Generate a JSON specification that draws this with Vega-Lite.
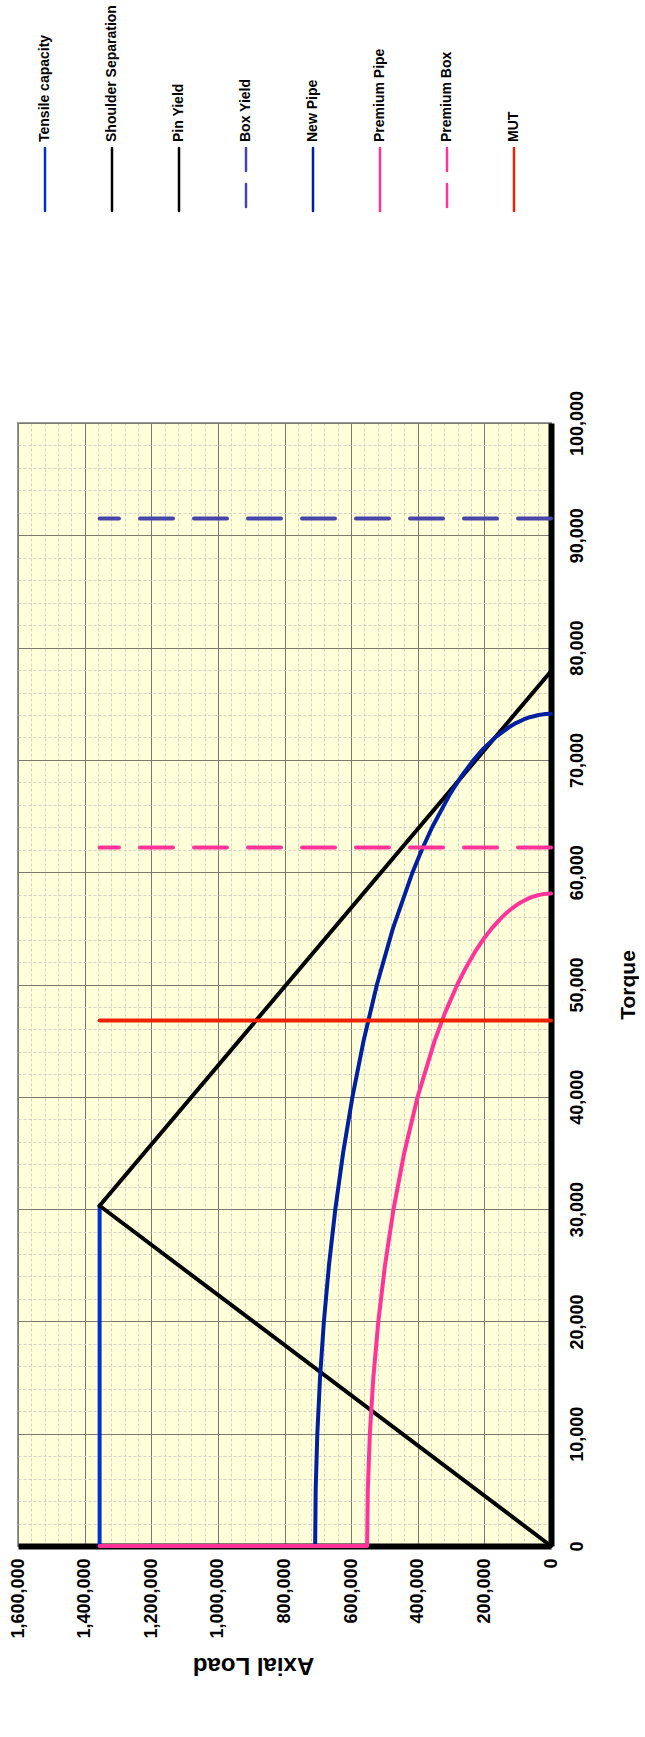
{
 "$schema": "https://vega.github.io/schema/vega-lite/v6.json",
 "background": "white",
 "padding": {"left": 8, "top": 5, "right": 0, "bottom": 0},
 "bounds": "flush",
 "spacing": 212,
 "config": {"font": "Liberation Sans"},
 "datasets": {
  "curves": [
   {"series":"Tensile capacity","i":0,"torque":0,"axial":1355000},
   {"series":"Tensile capacity","i":1,"torque":30300,"axial":1355000},
   {"series":"Shoulder Separation","i":0,"torque":0,"axial":0},
   {"series":"Shoulder Separation","i":1,"torque":30300,"axial":1355000},
   {"series":"Pin Yield","i":0,"torque":30300,"axial":1355000},
   {"series":"Pin Yield","i":1,"torque":77900,"axial":0},
   {"series":"Box Yield","i":0,"torque":91500,"axial":0},
   {"series":"Box Yield","i":1,"torque":91500,"axial":1355000},
   {"series":"New Pipe","i":0,"torque":0,"axial":1355000},
   {"series":"New Pipe","i":1,"torque":0,"axial":708000},
   {"series":"New Pipe","i":2,"torque":5000,"axial":706400},
   {"series":"New Pipe","i":3,"torque":10000,"axial":701500},
   {"series":"New Pipe","i":4,"torque":15000,"axial":693300},
   {"series":"New Pipe","i":5,"torque":20000,"axial":681700},
   {"series":"New Pipe","i":6,"torque":25000,"axial":666500},
   {"series":"New Pipe","i":7,"torque":30000,"axial":647400},
   {"series":"New Pipe","i":8,"torque":35000,"axial":624100},
   {"series":"New Pipe","i":9,"torque":40000,"axial":596000},
   {"series":"New Pipe","i":10,"torque":45000,"axial":562500},
   {"series":"New Pipe","i":11,"torque":50000,"axial":522500},
   {"series":"New Pipe","i":12,"torque":55000,"axial":474500},
   {"series":"New Pipe","i":13,"torque":60000,"axial":415500},
   {"series":"New Pipe","i":14,"torque":62000,"axial":387700},
   {"series":"New Pipe","i":15,"torque":64000,"axial":356800},
   {"series":"New Pipe","i":16,"torque":67000,"axial":302400},
   {"series":"New Pipe","i":17,"torque":68500,"axial":270000},
   {"series":"New Pipe","i":18,"torque":70000,"axial":232200},
   {"series":"New Pipe","i":19,"torque":71000,"axial":202700},
   {"series":"New Pipe","i":20,"torque":72000,"axial":167400},
   {"series":"New Pipe","i":21,"torque":73000,"axial":121500},
   {"series":"New Pipe","i":22,"torque":73300,"axial":103800},
   {"series":"New Pipe","i":23,"torque":73600,"axial":82100},
   {"series":"New Pipe","i":24,"torque":73800,"axial":63600},
   {"series":"New Pipe","i":25,"torque":74000,"axial":36800},
   {"series":"New Pipe","i":26,"torque":74080,"axial":16500},
   {"series":"New Pipe","i":27,"torque":74100,"axial":0},
   {"series":"Premium Pipe","i":0,"torque":0,"axial":1355000},
   {"series":"Premium Pipe","i":1,"torque":0,"axial":552000},
   {"series":"Premium Pipe","i":2,"torque":5000,"axial":549900},
   {"series":"Premium Pipe","i":3,"torque":10000,"axial":543800},
   {"series":"Premium Pipe","i":4,"torque":15000,"axial":533300},
   {"series":"Premium Pipe","i":5,"torque":20000,"axial":518300},
   {"series":"Premium Pipe","i":6,"torque":25000,"axial":498300},
   {"series":"Premium Pipe","i":7,"torque":30000,"axial":472700},
   {"series":"Premium Pipe","i":8,"torque":35000,"axial":440600},
   {"series":"Premium Pipe","i":9,"torque":40000,"axial":400300},
   {"series":"Premium Pipe","i":10,"torque":45000,"axial":349200},
   {"series":"Premium Pipe","i":11,"torque":47500,"axial":317900},
   {"series":"Premium Pipe","i":12,"torque":50000,"axial":281100},
   {"series":"Premium Pipe","i":13,"torque":51500,"axial":255500},
   {"series":"Premium Pipe","i":14,"torque":53000,"axial":226200},
   {"series":"Premium Pipe","i":15,"torque":54000,"axial":203700},
   {"series":"Premium Pipe","i":16,"torque":55000,"axial":177900},
   {"series":"Premium Pipe","i":17,"torque":56000,"axial":147100},
   {"series":"Premium Pipe","i":18,"torque":56500,"axial":128700},
   {"series":"Premium Pipe","i":19,"torque":57000,"axial":106900},
   {"series":"Premium Pipe","i":20,"torque":57300,"axial":91300},
   {"series":"Premium Pipe","i":21,"torque":57600,"axial":72300},
   {"series":"Premium Pipe","i":22,"torque":57800,"axial":56000},
   {"series":"Premium Pipe","i":23,"torque":57950,"axial":39700},
   {"series":"Premium Pipe","i":24,"torque":58050,"axial":22900},
   {"series":"Premium Pipe","i":25,"torque":58100,"axial":0},
   {"series":"Premium Box","i":0,"torque":62200,"axial":0},
   {"series":"Premium Box","i":1,"torque":62200,"axial":1355000},
   {"series":"MUT","i":0,"torque":46800,"axial":0},
   {"series":"MUT","i":1,"torque":46800,"axial":1355000}
  ]
 },
 "vconcat": [
  {
   "width": 523, "height": 63,
   "view": {"stroke": null},
   "data": {"name": "curves"},
   "transform": [{"aggregate": [{"op": "count", "as": "n"}], "groupby": ["series"]}],
   "encoding": {
    "x": {"field": "series", "type": "nominal", "sort": ["Tensile capacity","Shoulder Separation","Pin Yield","Box Yield","New Pipe","Premium Pipe","Premium Box","MUT"], "scale": {"type": "point", "padding": 0.403}, "axis": null},
    "y": {"datum": 1, "type": "quantitative", "scale": {"domain": [0, 1]}, "axis": null}
   },
   "layer": [
    {"mark": {"type": "rule", "strokeWidth": 2.5, "strokeCap": "round"},
     "encoding": {
      "y2": {"datum": 0},
      "color": {"field": "series", "type": "nominal", "scale": {"domain": ["Tensile capacity","Shoulder Separation","Pin Yield","Box Yield","New Pipe","Premium Pipe","Premium Box","MUT"], "range": ["#0033CC","#000000","#000000","#4646AA","#00209F","#FF3399","#FF3399","#EE2200"]}, "legend": null},
      "strokeDash": {"field": "series", "type": "nominal", "scale": {"domain": ["Tensile capacity","Shoulder Separation","Pin Yield","Box Yield","New Pipe","Premium Pipe","Premium Box","MUT"], "range": [[1,0],[1,0],[1,0],[23,13],[1,0],[1,0],[23,13],[1,0]]}, "legend": null}
     }},
    {"mark": {"type": "text", "angle": 270, "align": "left", "baseline": "middle", "dx": 6, "fontSize": 14, "fontWeight": "bold", "font": "Liberation Sans", "color": "#000000"},
     "encoding": {"text": {"field": "series"}}}
   ]
  },
  {
   "width": 533, "height": 1123,
   "view": {"fill": "#FFFFD9", "stroke": "#999999", "strokeWidth": 2},
   "data": {"name": "curves"},
   "layer": [
    {"mark": {"type": "point", "opacity": 0},
     "encoding": {
      "x": {"field": "axial", "type": "quantitative", "scale": {"domain": [0, 1600000], "reverse": true, "nice": false},
            "axis": {"orient": "bottom", "values": [40000,80000,120000,160000,240000,280000,320000,360000,440000,480000,520000,560000,640000,680000,720000,760000,840000,880000,920000,960000,1040000,1080000,1120000,1160000,1240000,1280000,1320000,1360000,1440000,1480000,1520000,1560000], "grid": true, "gridColor": "#D2D2C6", "gridDash": [3,2], "gridWidth": 1, "labels": false, "ticks": false, "domain": false, "title": null}},
      "y": {"field": "torque", "type": "quantitative", "scale": {"domain": [0, 100000], "nice": false},
            "axis": {"orient": "right", "values": [2000,4000,6000,8000,12000,14000,16000,18000,22000,24000,26000,28000,32000,34000,36000,38000,42000,44000,46000,48000,52000,54000,56000,58000,62000,64000,66000,68000,72000,74000,76000,78000,82000,84000,86000,88000,92000,94000,96000,98000], "grid": true, "gridColor": "#D2D2C6", "gridDash": [3,2], "gridWidth": 1, "labels": false, "ticks": false, "domain": false, "title": null}}
     }},
    {"mark": {"type": "point", "opacity": 0},
     "encoding": {
      "x": {"field": "axial", "type": "quantitative",
            "axis": {"orient": "bottom", "values": [0,200000,400000,600000,800000,1000000,1200000,1400000,1600000], "format": ",d", "grid": true, "gridColor": "#7A7A6E", "gridWidth": 1, "domain": true, "domainColor": "#000000", "domainWidth": 6, "ticks": false, "labelAngle": 270, "labelAlign": "right", "labelBaseline": "middle", "labelFont": "Liberation Sans", "labelFontWeight": "bold", "labelFontSize": 18, "labelColor": "#000000", "labelPadding": 12, "labelFlush": false, "labelOverlap": false, "title": "Axial Load", "titleAngle": 180, "titleX": 235, "titleY": 118, "titleAlign": "center", "titleBaseline": "middle", "titleFont": "Liberation Sans", "titleFontWeight": "bold", "titleFontSize": 24, "titleColor": "#000000"}},
      "y": {"field": "torque", "type": "quantitative",
            "axis": {"orient": "right", "values": [0,10000,20000,30000,40000,50000,60000,70000,80000,90000,100000], "format": ",d", "grid": true, "gridColor": "#7A7A6E", "gridWidth": 1, "domain": true, "domainColor": "#000000", "domainWidth": 6, "ticks": false, "labelAngle": 270, "labelAlign": "center", "labelBaseline": "top", "labelFont": "Liberation Sans", "labelFontWeight": "bold", "labelFontSize": 18, "labelColor": "#000000", "labelPadding": 17, "labelFlush": false, "labelOverlap": false, "title": "Torque", "titleAngle": 270, "titleFont": "Liberation Sans", "titleFontWeight": "bold", "titleFontSize": 21, "titleColor": "#000000", "titlePadding": 52}}
     }},
    {"transform": [{"filter": {"field": "series", "equal": "Tensile capacity"}}],
     "mark": {"type": "line", "color": "#0033CC", "strokeWidth": 4, "strokeCap": "round", "strokeJoin": "round"},
     "encoding": {"x": {"field": "axial", "type": "quantitative", "axis": null}, "y": {"field": "torque", "type": "quantitative", "axis": null}, "order": {"field": "i"}}},
    {"transform": [{"filter": {"field": "series", "equal": "Shoulder Separation"}}],
     "mark": {"type": "line", "color": "#000000", "strokeWidth": 4, "strokeCap": "round", "strokeJoin": "round"},
     "encoding": {"x": {"field": "axial", "type": "quantitative", "axis": null}, "y": {"field": "torque", "type": "quantitative", "axis": null}, "order": {"field": "i"}}},
    {"transform": [{"filter": {"field": "series", "equal": "Pin Yield"}}],
     "mark": {"type": "line", "color": "#000000", "strokeWidth": 4, "strokeCap": "round", "strokeJoin": "round"},
     "encoding": {"x": {"field": "axial", "type": "quantitative", "axis": null}, "y": {"field": "torque", "type": "quantitative", "axis": null}, "order": {"field": "i"}}},
    {"transform": [{"filter": {"field": "series", "equal": "Box Yield"}}],
     "mark": {"type": "line", "color": "#4646AA", "strokeWidth": 4, "strokeCap": "round", "strokeDash": [33, 21]},
     "encoding": {"x": {"field": "axial", "type": "quantitative", "axis": null}, "y": {"field": "torque", "type": "quantitative", "axis": null}, "order": {"field": "i"}}},
    {"transform": [{"filter": {"field": "series", "equal": "New Pipe"}}],
     "mark": {"type": "line", "color": "#00209F", "strokeWidth": 4, "strokeCap": "round", "strokeJoin": "round"},
     "encoding": {"x": {"field": "axial", "type": "quantitative", "axis": null}, "y": {"field": "torque", "type": "quantitative", "axis": null}, "order": {"field": "i"}}},
    {"transform": [{"filter": {"field": "series", "equal": "Premium Pipe"}}],
     "mark": {"type": "line", "color": "#FF3399", "strokeWidth": 4, "strokeCap": "round", "strokeJoin": "round"},
     "encoding": {"x": {"field": "axial", "type": "quantitative", "axis": null}, "y": {"field": "torque", "type": "quantitative", "axis": null}, "order": {"field": "i"}}},
    {"transform": [{"filter": {"field": "series", "equal": "Premium Box"}}],
     "mark": {"type": "line", "color": "#FF3399", "strokeWidth": 4, "strokeCap": "round", "strokeDash": [33, 21]},
     "encoding": {"x": {"field": "axial", "type": "quantitative", "axis": null}, "y": {"field": "torque", "type": "quantitative", "axis": null}, "order": {"field": "i"}}},
    {"transform": [{"filter": {"field": "series", "equal": "MUT"}}],
     "mark": {"type": "line", "color": "#EE2200", "strokeWidth": 4, "strokeCap": "round"},
     "encoding": {"x": {"field": "axial", "type": "quantitative", "axis": null}, "y": {"field": "torque", "type": "quantitative", "axis": null}, "order": {"field": "i"}}}
   ],
   "resolve": {"axis": {"x": "independent", "y": "independent"}}
  }
 ]
}
